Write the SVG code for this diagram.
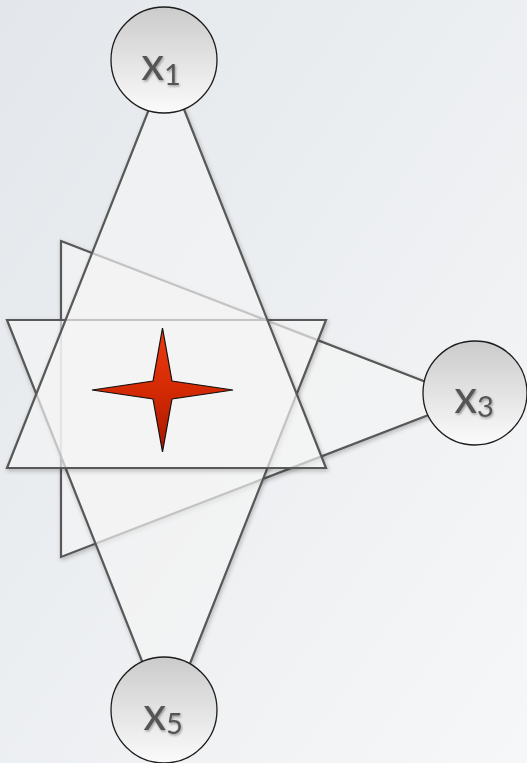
<svg xmlns="http://www.w3.org/2000/svg" width="527" height="763" viewBox="0 0 527 763">
  <defs>
    <linearGradient id="bg" x1="0" y1="0" x2="1" y2="1">
      <stop offset="0" stop-color="#e3e7eb"/>
      <stop offset="1" stop-color="#f6f7f8"/>
    </linearGradient>
    <linearGradient id="nodeFill" x1="0" y1="0" x2="0" y2="1">
      <stop offset="0" stop-color="#cbcbcb"/>
      <stop offset="1" stop-color="#fbfbfb"/>
    </linearGradient>
    <linearGradient id="starFill" x1="0" y1="0" x2="0" y2="1">
      <stop offset="0" stop-color="#ee3a12"/>
      <stop offset="0.5" stop-color="#d42a04"/>
      <stop offset="1" stop-color="#a81600"/>
    </linearGradient>
    <filter id="shadow" x="-20%" y="-20%" width="140%" height="140%">
      <feDropShadow dx="1" dy="2" stdDeviation="2" flood-color="#000" flood-opacity="0.28"/>
    </filter>
    <filter id="tshadow" x="-20%" y="-20%" width="140%" height="140%">
      <feDropShadow dx="1" dy="1.5" stdDeviation="1.2" flood-color="#000" flood-opacity="0.35"/>
    </filter>
  </defs>
  <style>
    .tri { fill: #ffffff; fill-opacity: 0.62; stroke: #585858; stroke-width: 2.2; stroke-linejoin: miter; }
    .node circle { fill: url(#nodeFill); stroke: #1c1c1c; stroke-width: 1.3; }
    .node text { font-family: "Lato", "Open Sans", "DejaVu Sans", sans-serif; font-size: 46px; fill: #555555; text-anchor: middle; }
    .sub { font-size: 29px; }
  </style>
  <rect x="0" y="0" width="527" height="763" fill="url(#bg)"/>

  <g id="connectors">
    <polygon id="tri-x3" class="tri" filter="url(#shadow)" points="61,241 470,399 61,557"/>
    <polygon id="tri-x5" class="tri" filter="url(#shadow)" points="7,320 326,320 166.5,723"/>
    <polygon id="tri-x1" class="tri" filter="url(#shadow)" points="166.5,65 326,468 7,468"/>
  </g>

  <g id="star">
    <path d="M162.5,328 L172,381 L233,390 L172,399 L162.5,452 L153,399 L92,390 L153,381 Z" fill="url(#starFill)" stroke="#111" stroke-width="1.2" stroke-linejoin="miter"/>
  </g>

  <g id="node-x1" class="node">
    <circle cx="164" cy="60" r="53"/>
    <text x="161" y="80" filter="url(#tshadow)">x<tspan class="sub" dy="5">1</tspan></text>
  </g>
  <g id="node-x3" class="node">
    <circle cx="475" cy="393" r="52"/>
    <text x="474" y="413" filter="url(#tshadow)">x<tspan class="sub" dy="4">3</tspan></text>
  </g>
  <g id="node-x5" class="node">
    <circle cx="164" cy="710" r="53"/>
    <text x="163" y="730" filter="url(#tshadow)">x<tspan class="sub" dy="4">5</tspan></text>
  </g>
</svg>
